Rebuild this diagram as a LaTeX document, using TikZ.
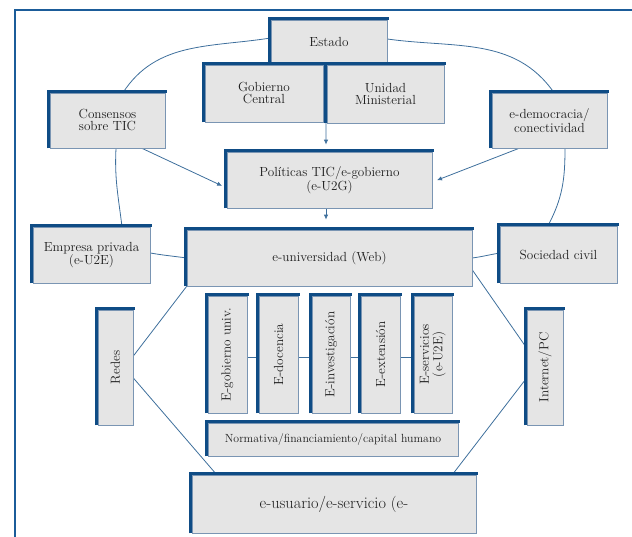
\documentclass[tikz,border=0pt]{standalone}
\usetikzlibrary{arrows.meta,backgrounds}
\definecolor{edgeblue}{HTML}{0F4C85}
\definecolor{thinblue}{HTML}{7A95B3}
\definecolor{boxfill}{HTML}{E5E5E5}
\definecolor{linkblue}{HTML}{3E6F9C}
\definecolor{frameblue}{HTML}{1B5C99}
\definecolor{txt}{HTML}{1E1E1E}
\begin{document}
\begin{tikzpicture}[x=1bp,y=1bp,
  box/.style={draw=thinblue, fill=boxfill, line width=0.7bp, inner sep=1bp, align=center,
    text=txt, font=\fontsize{13.2bp}{12bp}\selectfont,
    append after command={
      ([xshift=-1.3bp]\tikzlastnode.south west) edge[draw=edgeblue, line width=3.4bp]
      ([xshift=-1.3bp,yshift=1.3bp]\tikzlastnode.north west)
      ([xshift=-1.3bp,yshift=1.3bp]\tikzlastnode.north west) edge[draw=edgeblue, line width=3.4bp, line cap=rect]
      ([yshift=1.3bp]\tikzlastnode.north east)}},
  sz/.style 2 args={minimum width=#1bp, minimum height=#2bp},
  link/.style={draw=linkblue, line width=0.8bp},
  arr/.style={link, -{Latex[length=5bp,width=4.5bp]}, shorten >=#1},
  arr/.default=5bp
]
\useasboundingbox (0,0) rectangle (632,537);

% boxes
\node[box, sz={116}{44}] (estado) at (329,495) {Estado};
\node[box, sz={118}{57}] (gob) at (264,443.5) {Gobierno\\Central};
\node[box, sz={117}{58}] (unidad) at (385.5,443) {Unidad\\Ministerial};
\node[box, sz={115}{55}] (cons) at (107.5,416.5) {Consensos\\sobre TIC};
\node[box, sz={115}{55}] (edem) at (549.5,416.5) {e-democracia/\\conectividad};
\node[box, sz={205}{56}] (pol) at (329.5,357) {Políticas TIC/e-gobierno\\(e-U2G)};
\node[box, sz={285}{56}] (euni) at (329.5,279) {e-universidad (Web)};
\node[box, sz={117}{56}] (emp) at (91.5,282) {Empresa privada\\(e-U2E)};
\node[box, sz={117}{57}] (soc) at (558.5,282.5) {Sociedad civil};
\node[box, sz={35}{115}] (redes) at (115.5,169.5) {\rotatebox{90}{Redes}};
\node[box, sz={36}{115}] (inet) at (545,169.5) {\rotatebox{90}{Internet/PC}};
\node[box, sz={39}{117}] (v1) at (227.5,182.5) {\rotatebox{90}{E-gobierno univ.}};
\node[box, sz={39}{117}] (v2) at (278.5,182.5) {\rotatebox{90}{E-docencia}};
\node[box, sz={38}{117}] (v3) at (331,182.5) {\rotatebox{90}{E-investigación}};
\node[box, sz={39}{117}] (v4) at (380.5,182.5) {\rotatebox{90}{E-extensión}};
\node[box, sz={38}{117}] (v5) at (433,182.5) {\rotatebox{90}{\begin{tabular}{@{}c@{}}E-servicios\\(e-U2E)\end{tabular}}};
\node[box, sz={250}{33}, font=\fontsize{11.8bp}{12bp}\selectfont] (norm) at (333,97.5) {Normativa/financiamiento/capital humano};
\node[box, sz={284}{58}, font=\fontsize{16.3bp}{14bp}\selectfont] (eusu) at (334,33) {e-usuario/e-servicio (e-};

\begin{scope}[on background layer]
  \draw[frameblue, line width=2.5bp] (15,0) -- (15,527) -- (632,527);
  \draw[link] ([yshift=4bp]estado.west) to[out=189,in=57] ([xshift=15.5bp]cons.north);
  \draw[link] ([yshift=3bp]estado.east) to[out=-8,in=125] ([xshift=4.5bp]edem.north);
  \draw[link] ([xshift=8.5bp]cons.south) to[out=-93,in=97] ([xshift=30.5bp]emp.north);
  \draw[link] ([xshift=15.5bp]edem.south) to[out=-90,in=62] ([xshift=-10.5bp]soc.north);
  \draw[arr] ([xshift=34.5bp]cons.south) -- ([yshift=-8bp]pol.west);
  \draw[arr] ([xshift=-30.5bp]edem.south) -- ([yshift=-2bp]pol.east);
  \draw[arr=7bp] ([xshift=-3bp]estado.south) -- ([xshift=-3.5bp]pol.north);
  \draw[arr=10bp] ([xshift=-3.5bp]pol.south) -- ([xshift=-3.5bp]euni.north);
  \draw[link] ([yshift=2bp]emp.east) to[out=-10,in=172] (euni.west);
  \draw[link] ([yshift=1.5bp]soc.west) to[out=190,in=8] (euni.east);
  \draw[link] ([yshift=11.5bp]redes.east) -- (euni.south west);
  \draw[link] ([yshift=-10.5bp]redes.east) -- ([xshift=25bp]eusu.north west);
  \draw[link] ([yshift=19.5bp]inet.west) -- ([yshift=-12bp]euni.east);
  \draw[link] ([yshift=-10.5bp]inet.west) -- ([xshift=-24bp]eusu.north east);
  \draw[link] ([yshift=-2.5bp]v1.east) -- ([yshift=-2.5bp]v2.west);
  \draw[link] ([yshift=-2.5bp]v2.east) -- ([yshift=-2.5bp]v3.west);
  \draw[link] ([yshift=-2.5bp]v3.east) -- ([yshift=-2.5bp]v4.west);
  \draw[link] ([yshift=-2.5bp]v4.east) -- ([yshift=-2.5bp]v5.west);
\end{scope}
\end{tikzpicture}
\end{document}
